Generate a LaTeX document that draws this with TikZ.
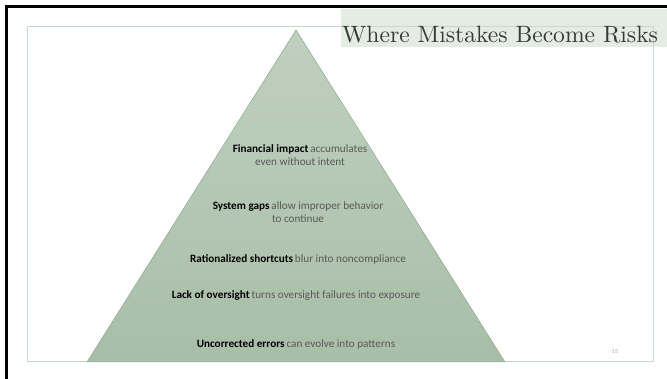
\documentclass[tikz,border=0pt]{standalone}
\usepackage{fontspec}
\newfontfamily\calibri{Carlito}
\newfontfamily\titlefont{lmroman10-regular}[Extension=.otf]
\definecolor{framegreen}{RGB}{200,216,200}
\definecolor{titleband}{RGB}{228,236,228}
\definecolor{pyrtop}{RGB}{192,208,192}
\definecolor{pyrbottom}{RGB}{168,190,168}
\definecolor{pyredge}{RGB}{140,168,140}
\definecolor{softgray}{RGB}{89,89,89}
\tikzset{
	layer/.style={font=\calibri\fontsize{11.2}{13.5}\selectfont, text=softgray, align=center, inner sep=0pt},
	titletext/.style={font=\titlefont\fontsize{23.6}{28}\selectfont, text=black!78, inner sep=0pt},
}
\newcommand{\kw}[1]{{\color{black}\bfseries #1}}
\begin{document}
\begin{tikzpicture}[x=1pt,y=-1pt]
	\useasboundingbox (0,0) rectangle (667,379);

	% рамка слайда
	\draw [line width=2.5pt] ( 6.5, 379 ) -- ( 6.5, 6.5 ) -- ( 667, 6.5 );
	\fill [titleband] ( 341, 9 ) rectangle ( 667, 47 );
	\draw [framegreen, line width=0.8pt] ( 27, 26 ) rectangle ( 653, 361 );
	\node [titletext, anchor=base west] (title) at ( 342, 43 ) {Where Mistakes Become Risks};

	% пирамида
	\draw [pyredge, line width=0.5pt, top color=pyrtop, bottom color=pyrbottom] ( 296, 30 ) -- ( 505, 362 ) -- ( 87, 362 ) -- cycle;

	% уровни пирамиды
	\node [layer] (impact) at ( 300, 155 ) {\kw{Financial impact}\,accumulates\\even without intent};
	\node [layer] (gaps) at ( 298, 212 ) {\kw{System gaps}\,allow improper behavior\\to continue};
	\node [layer] (shortcuts) at ( 298, 259 ) {\kw{Rationalized shortcuts}\,blur into noncompliance};
	\node [layer] (oversight) at ( 296, 296 ) {\kw{Lack of oversight}\,turns oversight failures into exposure};
	\node [layer] (errors) at ( 296, 344 ) {\kw{Uncorrected errors}\,can evolve into patterns};

	% номер слайда
	\node [layer, font=\calibri\fontsize{6}{7}\selectfont, text=black!35] (page) at ( 615, 352 ) {15};
\end{tikzpicture}
\end{document}
